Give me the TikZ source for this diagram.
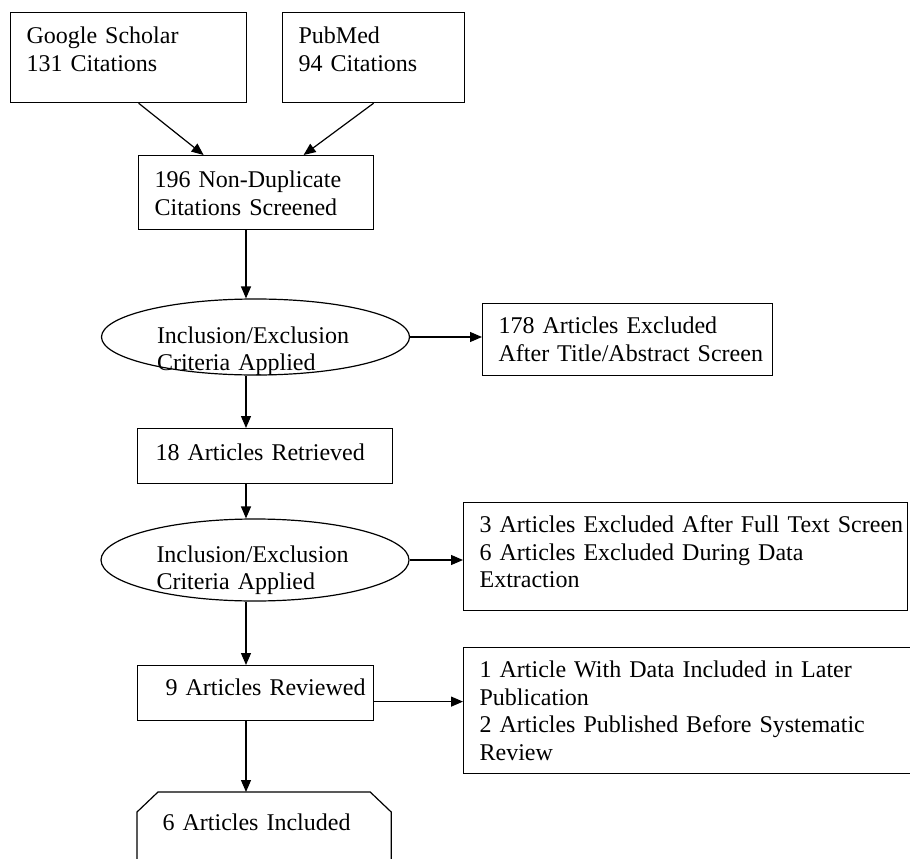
\documentclass[tikz,border=0pt]{standalone}
\usepackage{fontspec}
\setmainfont{Liberation Serif}
\usepackage{tikz}
\usepackage{tkz-euclide}
\usepackage{xcolor}
\usetikzlibrary{arrows.meta,shapes.geometric}

\tikzset{
  lskip/.style={execute at begin node={\leftskip=#1}},
  wbox/.style={draw, line width=1.2pt, rectangle, inner sep=0pt, anchor=north west,
    align=left, font=\fontsize{24}{27.6}\selectfont, lskip=16pt},
  crit/.style={draw, line width=1.2pt, ellipse, inner sep=0pt, minimum width=308pt,
    text width=197pt, align=left, font=\fontsize{24}{27.6}\selectfont},
  flow/.style={line width=1.2pt, -{Triangle[length=12pt,width=10pt]}}
}

\begin{document}
\begin{tikzpicture}[x=1pt,y=-1pt]
    \useasboundingbox (0,0) rectangle (910,859);
    \clip (0,0) rectangle (910,859);
    \tkzDefPoints{10/12/gsC,282/12/pmC,138/155/scrC,482/303/exaC,137/428/retC,
      463/502/exbC,137/665/revC,463/647/excC,137/792/incC,255.5/337/crA,255/560/crB,246/0/ax}
    % sources
    \node[wbox, text width=236pt, text height=31pt, text depth=59pt] (gs) at (gsC)
      {Google Scholar\\131 Citations};
    \node[wbox, text width=182pt, text height=31pt, text depth=59pt] (pm) at (pmC)
      {PubMed\\94 Citations};
    \node[wbox, text width=235pt, text height=32pt, text depth=42pt] (scr) at (scrC)
      {196 Non-Duplicate\\Citations Screened};
    % first screen
    \node[crit, minimum height=76pt, text height=22pt, text depth=10pt] (cr1) at (crA)
      {Inclusion/Exclusion\\Criteria Applied};
    \node[wbox, text width=290pt, text height=30pt, text depth=42pt] (exa) at (exaC)
      {178 Articles Excluded\\After Title/Abstract Screen};
    \node[wbox, text width=255pt, text height=32pt, text depth=23pt, lskip=18pt] (ret) at (retC)
      {18 Articles Retrieved};
    % second screen
    \node[crit, minimum height=82pt, text height=18pt, text depth=14pt] (cr2) at (crB)
      {Inclusion/Exclusion\\Criteria Applied};
    \node[wbox, text width=444pt, text height=30pt, text depth=78pt] (exb) at (exbC)
      {3 Articles Excluded After Full Text Screen\\6 Articles Excluded During Data\\Extraction};
    \node[wbox, text width=236pt, text height=30pt, text depth=25pt, lskip=28pt] (rev) at (revC)
      {9 Articles Reviewed};
    \node[wbox, text width=470pt, text height=30pt, text depth=96pt] (exc) at (excC)
      {1 Article With Data Included in Later\\Publication\\2 Articles Published Before Systematic\\Review};
    \node[wbox, draw=none, text width=253pt, text height=38pt, text depth=50pt, lskip=25pt] (inc) at (incC)
      {6 Articles Included};
    \draw[line width=1.2pt] ([xshift=21pt]inc.north west) -- ([xshift=-21pt]inc.north east)
      -- ([yshift=-20pt]inc.north east) -- ([yshift=20pt]inc.south east)
      -- ([xshift=-21pt]inc.south east) -- ([xshift=21pt]inc.south west)
      -- ([yshift=20pt]inc.south west) -- ([yshift=-20pt]inc.north west) -- cycle;
    % connectors
    \draw[flow] ([xshift=10pt]gs.south) -- ([xshift=-52.5pt]scr.north);
    \draw[flow] (pm.south) -- ([xshift=47.5pt]scr.north);
    \draw[flow] (scr.south -| ax) -- (cr1.north -| ax);
    \draw[flow] (cr1.east) -- (cr1.east -| exa.west);
    \draw[flow] (cr1.south -| ax) -- (ret.north -| ax);
    \draw[flow] (ret.south -| ax) -- (cr2.north -| ax);
    \draw[flow] (cr2.east) -- (cr2.east -| exb.west);
    \draw[flow] (cr2.south -| ax) -- (rev.north -| ax);
    \draw[flow] ([yshift=-8.5pt]rev.east) -- ([yshift=-8.5pt]rev.east -| exc.west);
    \draw[flow] (rev.south -| ax) -- (inc.north -| ax);
\end{tikzpicture}
\end{document}
